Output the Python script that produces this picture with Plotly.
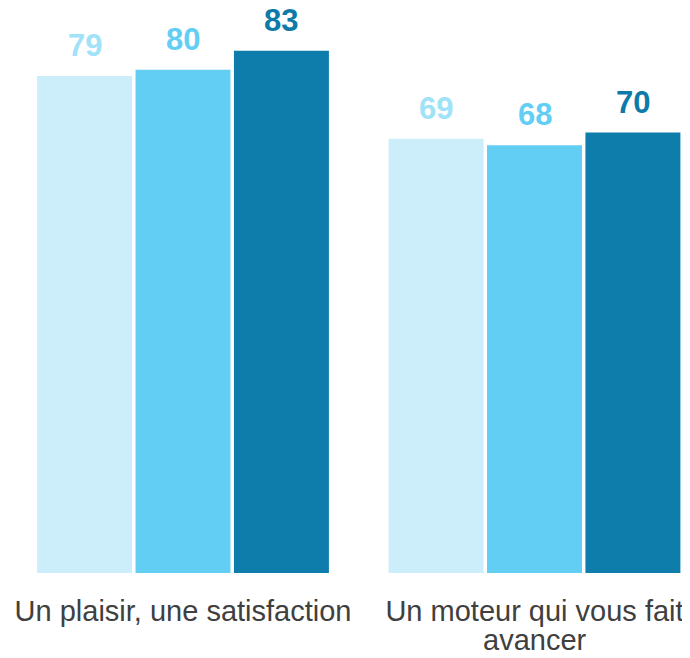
import plotly.graph_objects as go

# category labels, one list of lines per category
category_lines = [["Un plaisir, une satisfaction"], ["Un moteur qui vous fait", "avancer"]]
series_names = ["Série 1", "Série 2", "Série 3"]
values_1 = [79, 69]
values_2 = [80, 68]
values_3 = [83, 70]

bar_colors = ["#CCEEFA", "#63CEF4", "#0E7DAB"]
label_colors = ["#A0E2F8", "#63CEF4", "#0E7AA8"]

bargap = 0.16
categories = [lines[0] for lines in category_lines]

fig = go.Figure()
all_values = [values_1, values_2, values_3]
for name, vals, col in zip(series_names, all_values, bar_colors):
    fig.add_trace(go.Bar(x=categories, y=vals, name=name, marker=dict(color=col, line=dict(width=0))))

# value labels above bars
slot = (1 - bargap) / 3
for k, (vals, col) in enumerate(zip(all_values, label_colors)):
    for i, v in enumerate(vals):
        fig.add_annotation(x=i + (k - 1) * slot, y=v, xref="x", yref="y", text=str(v),
                           showarrow=False, yanchor="bottom", yshift=11,
                           font=dict(family="Liberation Sans, Arial", size=31, color=col, weight="bold"))

# wrapped lines of the category labels (tighter spacing than plotly's multi-line ticks)
for i, lines in enumerate(category_lines):
    for j, line in enumerate(lines[1:]):
        fig.add_annotation(x=i, y=0, xref="x", yref="paper", text=line, showarrow=False,
                           yanchor="middle", yshift=-67 - 33 * j,
                           font=dict(family="Liberation Sans, Arial", size=29, color="#404040"))

fig.update_layout(
    width=682, height=650,
    barmode="group", bargap=bargap, bargroupgap=0.035,
    plot_bgcolor="white", paper_bgcolor="white",
    showlegend=False,
    margin=dict(l=0, r=0, t=0, b=85),
    font=dict(family="Liberation Sans, Arial", size=29, color="#404040"),
)
fig.update_xaxes(range=[-0.4979, 1.4424], showgrid=False, showline=False, zeroline=False,
                 ticks="outside", ticklen=12, tickcolor="rgba(0,0,0,0)", automargin=False)
fig.update_yaxes(range=[0, 89.8], visible=False)

fig.write_html("out.html")
